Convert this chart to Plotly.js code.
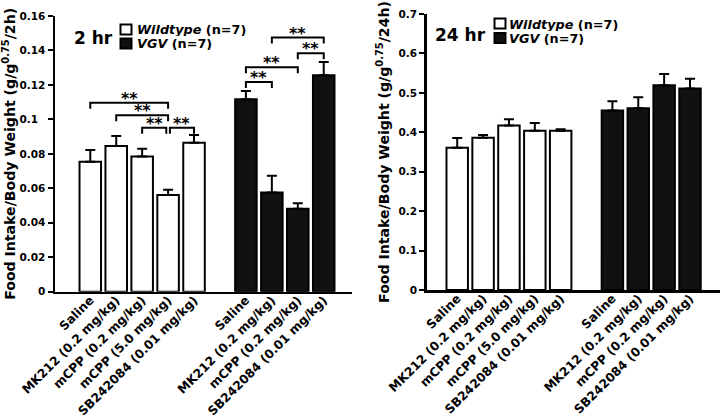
<!DOCTYPE html>
<html><head><meta charset="utf-8">
<script src="https://cdn.plot.ly/plotly-3.0.1.min.js"></script>
<style>html,body{margin:0;padding:0;background:#fff}</style>
</head><body><div id="chart" style="width:720px;height:420px"></div>
<script>
// ---- data ----
const wtLabels = ['Saline', 'MK212 (0.2 mg/kg)', 'mCPP (0.2 mg/kg)', 'mCPP (5.0 mg/kg)', 'SB242084 (0.01 mg/kg)'];
const vgvLabels = ['Saline', 'MK212 (0.2 mg/kg)', 'mCPP (0.2 mg/kg)', 'SB242084 (0.01 mg/kg)'];

const wt2h = [0.0754, 0.0846, 0.0784, 0.0561, 0.0865];
const wt2hErr = [0.0068, 0.0058, 0.0046, 0.0030, 0.0045];
const vgv2h = [0.1117, 0.0575, 0.0482, 0.1256];
const vgv2hErr = [0.0048, 0.0098, 0.0031, 0.0077];

const wt24h = [0.361, 0.386, 0.417, 0.404, 0.404];
const wt24hErr = [0.0245, 0.007, 0.016, 0.0195, 0.0035];
const vgv24h = [0.455, 0.461, 0.519, 0.511];
const vgv24hErr = [0.024, 0.028, 0.029, 0.0245];

const yTicks2h = [0, 0.02, 0.04, 0.06, 0.08, 0.1, 0.12, 0.14, 0.16];
const yTickText2h = ['0', '0.02', '0.04', '0.06', '0.08', '0.1\u00a0\u00a0', '0.12', '0.14', '0.16'];
const yTicks24h = [0, 0.1, 0.2, 0.3, 0.4, 0.5, 0.6, 0.7];
const yTickText24h = ['0', '0.1', '0.2', '0.3', '0.4', '0.5', '0.6', '0.7'];

// significance brackets (2 hr panel): bar index from / to, bracket height
const sigFrom = [0, 1, 2, 3.07, 6, 6, 7, 8];
const sigTo   = [3, 3, 2.93, 4, 7, 8, 9, 9];
const sigY    = [0.1097, 0.1024, 0.0952, 0.0952, 0.1217, 0.1303, 0.1475, 0.1384];
const sigText = ['**', '**', '**', '**', '**', '**', '**', '**'];

// ---- build ----
const wtPos = wtLabels.map((_, i) => i);
const vgvPos = vgvLabels.map((_, i) => i + wtLabels.length + 1);
const tickPos = wtPos.concat(vgvPos);
const tickText = wtLabels.concat(vgvLabels);

const FONT = 'DejaVu Sans, Verdana, sans-serif';
const BLACK = '#000';
const DARK = '#111';

function barTrace(x, y, err, fill, xa, ya, name) {
  return {
    type: 'bar', x: x, y: y, name: name, showlegend: false,
    xaxis: xa, yaxis: ya, width: 0.83,
    marker: {color: fill, line: {color: BLACK, width: 2}},
    error_y: {type: 'data', symmetric: false, array: err, arrayminus: err.map(() => 0),
              color: BLACK, thickness: 2, width: 5},
    hoverinfo: 'skip'
  };
}

const data = [
  barTrace(wtPos, wt2h, wt2hErr, '#fff', 'x', 'y', 'Wildtype'),
  barTrace(vgvPos, vgv2h, vgv2hErr, DARK, 'x', 'y', 'VGV'),
  barTrace(wtPos, wt24h, wt24hErr, '#fff', 'x2', 'y2', 'Wildtype'),
  barTrace(vgvPos, vgv24h, vgv24hErr, DARK, 'x2', 'y2', 'VGV')
];

const W = 720, H = 420;
const PX = p => p / W;
const PY = p => 1 - p / H;

function xAxis(domain, range, anchor) {
  return {
    domain: domain, range: range, anchor: anchor,
    showline: true, linecolor: BLACK, linewidth: 2.5,
    showgrid: false, zeroline: false, ticks: '',
    tickmode: 'array', tickvals: tickPos, ticktext: tickText,
    tickangle: -45, ticklabelstandoff: -6,
    tickfont: {family: FONT, size: 12.3, color: BLACK, weight: 'bold'},
    fixedrange: true
  };
}
function yAxis(domain, range, anchor, tv, tt, title) {
  return {
    domain: domain, range: range, anchor: anchor,
    showline: true, linecolor: BLACK, linewidth: 2.5,
    showgrid: false, zeroline: false,
    ticks: 'outside', ticklen: 5, tickwidth: 2, tickcolor: BLACK,
    tickmode: 'array', tickvals: tv, ticktext: tt,
    tickfont: {family: FONT, size: 10.5, color: BLACK, weight: 'bold'},
    title: {text: title, font: {family: FONT, size: 14.1, color: BLACK, weight: 'bold'}, standoff: 6},
    fixedrange: true
  };
}

const shapes = [];
const annotations = [];
const drop = 0.0035;
for (let i = 0; i < sigY.length; i++) {
  const f = sigFrom[i], t = sigTo[i], y = sigY[i];
  shapes.push({type: 'path', xref: 'x', yref: 'y',
    path: `M${f},${y - drop} L${f},${y} L${t},${y} L${t},${y - drop}`,
    line: {color: BLACK, width: 2}});
  annotations.push({xref: 'x', yref: 'y', x: (f + t) / 2, y: y, text: sigText[i],
    showarrow: false, yanchor: 'bottom', xanchor: 'center', yshift: -7,
    font: {family: FONT, size: 16, color: BLACK, weight: 'bold'}});
}

// panel labels and legend keys
function panelKey(label, labelX, labelY, sqX, sqY1, sqY2, txtX, txtY1, txtY2) {
  annotations.push({xref: 'paper', yref: 'paper', x: PX(labelX), y: PY(labelY), text: '<b>' + label + '</b>',
    showarrow: false, xanchor: 'center', yanchor: 'middle',
    font: {family: FONT, size: 17, color: BLACK, weight: 'bold'}});
  shapes.push({type: 'rect', xref: 'paper', yref: 'paper',
    x0: PX(sqX), x1: PX(sqX + 11), y0: PY(sqY1), y1: PY(sqY1 + 10),
    fillcolor: '#fff', line: {color: BLACK, width: 2}});
  shapes.push({type: 'rect', xref: 'paper', yref: 'paper',
    x0: PX(sqX), x1: PX(sqX + 11), y0: PY(sqY2), y1: PY(sqY2 + 10),
    fillcolor: DARK, line: {color: BLACK, width: 2}});
  annotations.push({xref: 'paper', yref: 'paper', x: PX(txtX), y: PY(txtY1), height: 13,
    text: '<b><i>Wildtype</i> (n=7)</b>', showarrow: false, xanchor: 'left', yanchor: 'middle',
    font: {family: FONT, size: 12.8, color: BLACK, weight: 'bold'}});
  annotations.push({xref: 'paper', yref: 'paper', x: PX(txtX), y: PY(txtY2), height: 13,
    text: '<b><i>VGV</i> (n=7)</b>', showarrow: false, xanchor: 'left', yanchor: 'middle',
    font: {family: FONT, size: 12.8, color: BLACK, weight: 'bold'}});
}
panelKey('2 hr', 93, 38, 120.5, 24.5, 38.5, 135, 29.5, 44);
panelKey('24 hr', 461, 35, 494.5, 18.5, 33, 507, 24, 38.5);

const layout = {
  width: W, height: H,
  margin: {l: 0, r: 0, t: 0, b: 0},
  paper_bgcolor: '#fff', plot_bgcolor: 'rgba(0,0,0,0)',
  showlegend: false,
  bargap: 0,
  xaxis: xAxis([PX(55), PX(352)], [-1.36, 10.09], 'y'),
  yaxis: yAxis([PY(291.7), PY(16)], [0, 0.16], 'x', yTicks2h, yTickText2h,
               'Food Intake/Body Weight (g/g<sup>0.75</sup>/2h)'),
  xaxis2: xAxis([PX(426.7), 1], [-1.18, 10.16], 'y2'),
  yaxis2: yAxis([PY(290), PY(14)], [0, 0.7], 'x2', yTicks24h, yTickText24h,
               'Food Intake/Body Weight (g/g<sup>0.75</sup>/24h)'),
  shapes: shapes,
  annotations: annotations,
  font: {family: FONT, color: BLACK}
};

Plotly.newPlot('chart', data, layout, {staticPlot: true, displayModeBar: false});
</script>
</body></html>
